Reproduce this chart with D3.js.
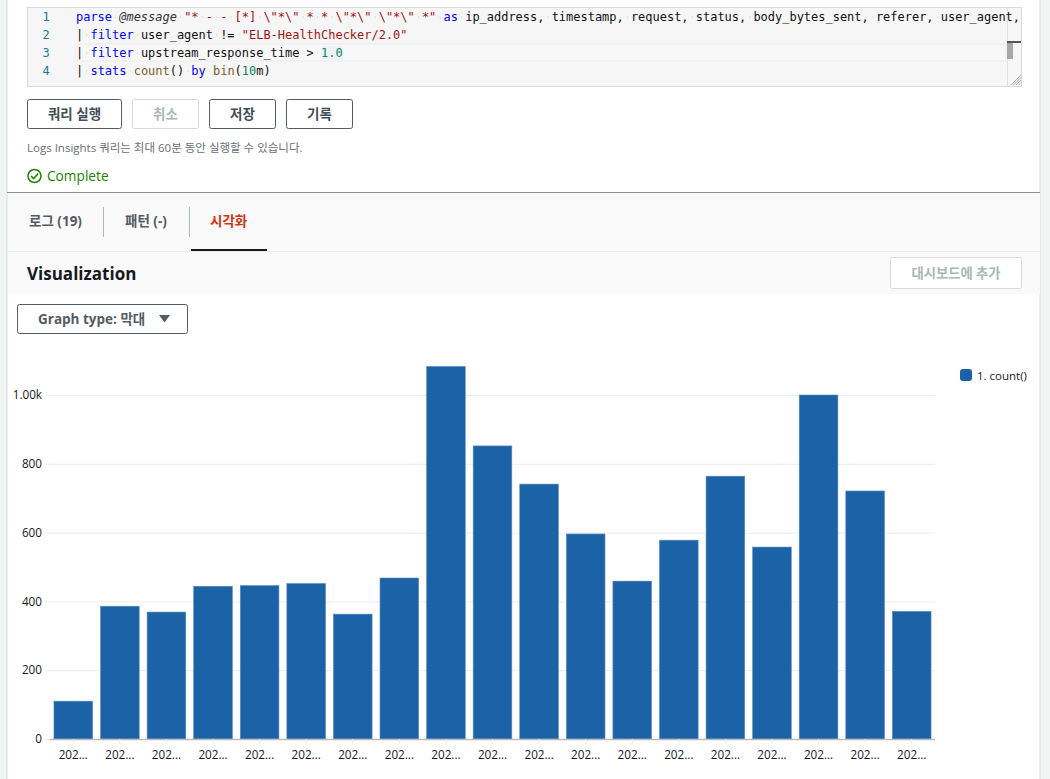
<!DOCTYPE html>
<html>
<head>
<meta charset="utf-8">
<script src="https://cdnjs.cloudflare.com/ajax/libs/d3/7.8.5/d3.min.js"></script>
<style>
  html, body { margin: 0; padding: 0; background: #fff; overflow: hidden; }
  svg { display: block; }
  text { font-family: "Open Sans", "Noto Sans CJK KR", sans-serif; }
  .code text { font-family: "DejaVu Sans Mono", monospace; font-size: 11.975px; white-space: pre; }
</style>
</head>
<body>
<div id="chart"></div>
<script>
// chart values
const counts = [110, 386, 369, 444, 446, 452, 363, 468, 1083, 852, 741, 596, 459, 578, 764, 558, 1000, 721, 371];
const xLabels = counts.map(() => "202...");
const yTicks = [0, 200, 400, 600, 800, 1000];
const seriesName = "1. count()";

// query text, as [text, colour] runs per line
const queryLines = [
  [["parse", "#0000ff"], [" ", "#000"], ["@message", "#333", "italic"], [" ", "#000"], ["\"* - - [*] \\\"*\\\" * * \\\"*\\\" \\\"*\\\" *\"", "#a31515"], [" ", "#000"], ["as", "#0000ff"], [" ip_address, timestamp, request, status, body_bytes_sent, referer, user_agent,", "#111"]],
  [["| ", "#111"], ["filter", "#0000ff"], [" user_agent != ", "#111"], ["\"ELB-HealthChecker/2.0\"", "#a31515"]],
  [["| ", "#111"], ["filter", "#0000ff"], [" upstream_response_time > ", "#111"], ["1.0", "#09885a"]],
  [["| ", "#111"], ["stats", "#0000ff"], [" ", "#111"], ["count", "#795e26"], ["() ", "#111"], ["by", "#0000ff"], [" ", "#111"], ["bin", "#795e26"], ["(", "#111"], ["10", "#09885a"], ["m)", "#111"]]
];
const buttons = [
  { label: "쿼리 실행", x: 27, w: 95, off: false },
  { label: "취소", x: 132, w: 67, off: true },
  { label: "저장", x: 209, w: 67, off: false },
  { label: "기록", x: 286, w: 67, off: false }
];
const tabs = [
  { label: "로그 (19)", x: 29, color: "#545b64" },
  { label: "패턴 (-)", x: 125, color: "#545b64" },
  { label: "시각화", x: 210, color: "#d13212" }
];

const width = 1050, height = 779;
const svg = d3.select("#chart").append("svg")
  .attr("width", width)
  .attr("height", height);

// page frame
svg.append("rect").attr("width", width).attr("height", height).attr("fill", "#f2f3f3");
svg.append("rect").attr("x", 7).attr("width", 1033).attr("height", height).attr("fill", "#fff");
svg.append("line").attr("x1", 7).attr("x2", 7).attr("y1", 0).attr("y2", height).attr("stroke", "#d5dbdb");
svg.append("line").attr("x1", 1040).attr("x2", 1040).attr("y1", 0).attr("y2", height).attr("stroke", "#d5dbdb");

// code editor
const code = svg.append("g").attr("class", "code");
code.append("rect")
  .attr("x", 27.5).attr("y", 7.5).attr("width", 994).attr("height", 79)
  .attr("fill", "#f6f6f6").attr("stroke", "#d5dbdb");
code.append("rect")
  .attr("x", 76).attr("y", 44).attr("width", 930).attr("height", 17)
  .attr("fill", "#f8f8f8").attr("stroke", "#ececec");
code.append("rect").attr("x", 321).attr("y", 46).attr("width", 22).attr("height", 14).attr("fill", "#eef2f6");
code.append("line").attr("x1", 1007.5).attr("x2", 1007.5).attr("y1", 8).attr("y2", 86).attr("stroke", "#e0e0e0");
code.append("rect").attr("x", 1007).attr("y", 41).attr("width", 14).attr("height", 2).attr("fill", "#555");
code.append("rect").attr("x", 1007).attr("y", 43).attr("width", 6).attr("height", 16).attr("fill", "#a8a8a8");
[0, 1, 2, 3, 4].forEach(i => {
  code.append("line")
    .attr("x1", 1011 + i * 2.5).attr("y1", 85)
    .attr("x2", 1021).attr("y2", 75 + i * 2.5)
    .attr("stroke", "#999").attr("stroke-width", 0.7);
});
const charW = 11.975 * 0.602;
queryLines.forEach((runs, i) => {
  const y = 21 + i * 18;
  code.append("text")
    .attr("x", 46).attr("y", y).attr("text-anchor", "middle")
    .attr("fill", "#237893").text(i + 1);
  // faint whitespace markers, the editor shows them
  Array.from(runs.map(r => r[0]).join("")).forEach((c, k) => {
    if (c !== " ") return;
    code.append("circle")
      .attr("cx", 76 + (k + 0.5) * charW).attr("cy", y - 4)
      .attr("r", 0.6).attr("fill", "#c4c4c4");
  });
  const line = code.append("text").attr("x", 76).attr("y", y).attr("xml:space", "preserve");
  line.selectAll("tspan").data(runs).join("tspan")
    .attr("fill", d => d[1])
    .attr("font-style", d => d[2] || null)
    .text(d => d[0]);
});

// buttons
const btn = svg.append("g").selectAll("g").data(buttons).join("g")
  .attr("transform", d => `translate(${d.x},99)`);
btn.append("rect")
  .attr("x", 0.5).attr("y", 0.5).attr("rx", 2)
  .attr("width", d => d.w - 1).attr("height", 29)
  .attr("fill", "#fff")
  .attr("stroke", d => d.off ? "#d5dbdb" : "#545b64");
btn.append("text")
  .attr("x", d => d.w / 2).attr("y", 20)
  .attr("text-anchor", "middle")
  .attr("font-size", 13.5).attr("font-weight", 700)
  .attr("fill", d => d.off ? "#aab7b8" : "#444c55")
  .text(d => d.label);

svg.append("text").attr("x", 27).attr("y", 152)
  .attr("font-size", 11.5).attr("fill", "#687078")
  .text("Logs Insights 쿼리는 최대 60분 동안 실행할 수 있습니다.");

// status
svg.append("circle").attr("cx", 34.5).attr("cy", 176).attr("r", 6.5)
  .attr("fill", "none").attr("stroke", "#1d8102").attr("stroke-width", 1.5);
svg.append("path").attr("d", "M31 176l2.6 2.6 4.6-5")
  .attr("fill", "none").attr("stroke", "#1d8102").attr("stroke-width", 1.5);
svg.append("text").attr("x", 47).attr("y", 181)
  .attr("font-size", 13.7).attr("fill", "#1d8102").text("Complete");

// tab strip and header
svg.append("rect").attr("x", 8).attr("y", 193).attr("width", 1032).attr("height", 101).attr("fill", "#fafafa");
svg.append("line").attr("x1", 7).attr("x2", 1040).attr("y1", 192.5).attr("y2", 192.5).attr("stroke", "#879596");
svg.append("line").attr("x1", 8).attr("x2", 1040).attr("y1", 251.5).attr("y2", 251.5).attr("stroke", "#e5e8e8");
svg.append("g").selectAll("text").data(tabs).join("text")
  .attr("x", d => d.x).attr("y", 226)
  .attr("font-size", 13.5).attr("font-weight", 700)
  .attr("fill", d => d.color)
  .text(d => d.label);
[103.5, 189.5].forEach(x => {
  svg.append("line").attr("x1", x).attr("x2", x).attr("y1", 207).attr("y2", 237).attr("stroke", "#aab7b8");
});
svg.append("rect").attr("x", 191).attr("y", 249).attr("width", 76).attr("height", 2).attr("fill", "#16191f");

svg.append("text").attr("x", 27).attr("y", 280)
  .attr("font-size", 17).attr("font-weight", 700).attr("fill", "#16191f")
  .text("Visualization");

svg.append("rect").attr("x", 890.5).attr("y", 257.5).attr("width", 131).attr("height", 31).attr("rx", 2)
  .attr("fill", "#fff").attr("stroke", "#d5dbdb");
svg.append("text").attr("x", 956).attr("y", 277.5).attr("text-anchor", "middle")
  .attr("font-size", 13.3).attr("font-weight", 700).attr("fill", "#aab7b8")
  .text("대시보드에 추가");

// graph type dropdown
svg.append("rect").attr("x", 17.5).attr("y", 304.5).attr("width", 170).attr("height", 29).attr("rx", 2)
  .attr("fill", "#fff").attr("stroke", "#545b64");
svg.append("text").attr("x", 38).attr("y", 324)
  .attr("font-size", 13.5).attr("font-weight", 700).attr("fill", "#545b64")
  .text("Graph type: 막대");
svg.append("path").attr("d", "M159 315h11l-5.5 7.5z").attr("fill", "#545b64");

// bar chart
const x = d3.scaleBand()
  .domain(d3.range(counts.length))
  .range([50, 935])
  .paddingInner(0.17)
  .paddingOuter(0.085);

const y = d3.scaleLinear()
  .domain([0, 1000])
  .range([739, 395]);

const yAxis = svg.append("g")
  .attr("transform", "translate(45,0)")
  .call(d3.axisLeft(y)
    .tickValues(yTicks)
    .tickSize(-890)
    .tickPadding(3)
    .tickFormat(d => d >= 1000 ? d3.format(".2f")(d / 1000) + "k" : d));
yAxis.select(".domain").remove();
yAxis.selectAll("line").attr("stroke", "#eaeded");
yAxis.selectAll("text").attr("font-size", 11.7).attr("fill", "#16191f");

svg.append("g").selectAll("rect").data(counts).join("rect")
  .attr("x", (d, i) => x(i))
  .attr("y", d => y(d))
  .attr("width", x.bandwidth())
  .attr("height", d => y(0) - y(d))
  .attr("fill", "#1b62a6")
  .attr("stroke", "#5a8cc0")
  .attr("stroke-width", 0.6);

const xAxis = svg.append("g")
  .attr("transform", "translate(0,739)")
  .call(d3.axisBottom(x)
    .tickSize(5)
    .tickPadding(7)
    .tickFormat(i => xLabels[i]));
xAxis.select(".domain").attr("stroke", "#bbb").attr("stroke-width", 1.5).attr("d", "M50,0.5H935");
xAxis.selectAll("line").attr("stroke", "#eaeded");
xAxis.selectAll("text").attr("font-size", 11.7).attr("fill", "#16191f");

// legend
svg.append("rect").attr("x", 960).attr("y", 369).attr("width", 12).attr("height", 12).attr("rx", 3).attr("fill", "#1b62a6");
svg.append("text").attr("x", 977).attr("y", 380)
  .attr("font-size", 11.5).attr("fill", "#16191f").text(seriesName);
</script>
</body>
</html>
